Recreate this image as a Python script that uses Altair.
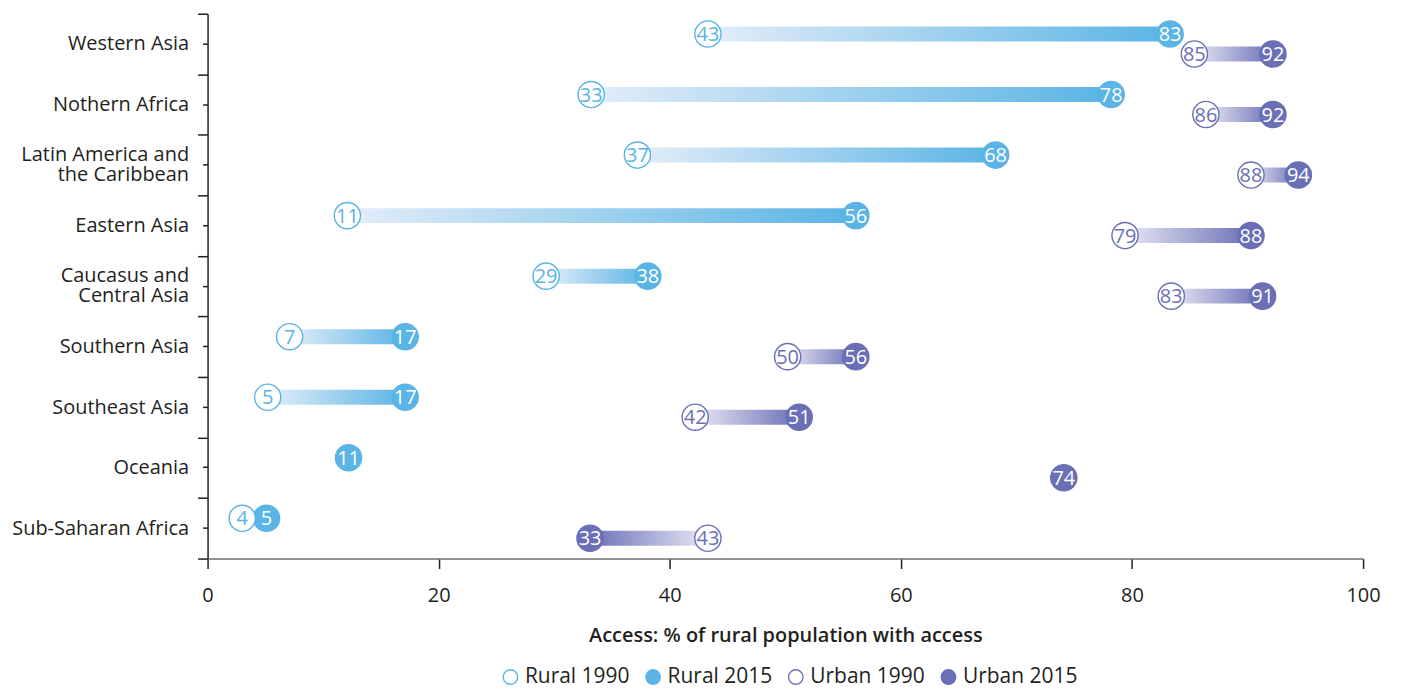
import altair as alt
import pandas as pd

# ---------------- data ----------------
regions = [
    "Western Asia",
    "Nothern Africa",
    "Latin America and|the Caribbean",
    "Eastern Asia",
    "Caucasus and|Central Asia",
    "Southern Asia",
    "Southeast Asia",
    "Oceania",
    "Sub-Saharan Africa",
]
# plotted positions
rural_1990 = [43.3, 33.2, 37.2, 12.1, 29.3, 7.1, 5.2, None, 3.0]
rural_2015 = [83.3, 78.2, 68.2, 56.1, 38.1, 17.1, 17.1, 12.2, 5.1]
urban_1990 = [85.4, 86.4, 90.3, 79.4, 83.4, 50.2, 42.2, None, 43.3]
urban_2015 = [92.2, 92.2, 94.4, 90.3, 91.3, 56.1, 51.2, 74.1, 33.1]
# printed labels
rural_1990_lab = ["43", "33", "37", "11", "29", "7", "5", "", "4"]
rural_2015_lab = ["83", "78", "68", "56", "38", "17", "17", "11", "5"]
urban_1990_lab = ["85", "86", "88", "79", "83", "50", "42", "", "43"]
urban_2015_lab = ["92", "92", "94", "88", "91", "56", "51", "74", "33"]

x_ticks = [0, 20, 40, 60, 80, 100]
series_order = ["Rural 1990", "Rural 2015", "Urban 1990", "Urban 2015"]

BLUE = "#5ab4e5"
PURPLE = "#6a6fb6"
INK = "#231f20"
FONT = "Open Sans"

# ---------------- tables ----------------
seg_rows = []
pt_rows = []
vals = {
    ("Rural", "1990"): (rural_1990, rural_1990_lab),
    ("Rural", "2015"): (rural_2015, rural_2015_lab),
    ("Urban", "1990"): (urban_1990, urban_1990_lab),
    ("Urban", "2015"): (urban_2015, urban_2015_lab),
}
for i, r in enumerate(regions):
    for typ in ["Rural", "Urban"]:
        a = vals[(typ, "1990")][0][i]
        b = vals[(typ, "2015")][0][i]
        if a is not None and b is not None:
            seg_rows.append(dict(region=r, type=typ, start=a, end=b, up=bool(b >= a)))
# draw 2015 circles first, 1990 on top
for yr in ["2015", "1990"]:
    for typ in ["Rural", "Urban"]:
        v, lab = vals[(typ, yr)]
        for i, r in enumerate(regions):
            if v[i] is None:
                continue
            filled = yr == "2015"
            col = BLUE if typ == "Rural" else PURPLE
            pt_rows.append(dict(region=r, type=typ, series=f"{typ} {yr}", value=v[i],
                                label=lab[i], tcolor="white" if filled else col))
seg = pd.DataFrame(seg_rows)
pts = pd.DataFrame(pt_rows)

# ---------------- encodings ----------------
Y_SCALE = alt.Scale(domain=regions, paddingInner=0, paddingOuter=0)
YOFF = alt.YOffset("type:N", scale=alt.Scale(domain=["Rural", "Urban"], paddingInner=0, paddingOuter=0.515))
X_SCALE = alt.Scale(domain=[0, 100], nice=False)
X_AXIS = alt.Axis(
    title="Access: % of rural population with access", values=x_ticks, grid=False,
    domainColor="#6d6e71", domainWidth=1.5, tickColor=INK, tickWidth=1.5, tickSize=10,
    labelFontSize=20, labelColor=INK, labelFont=FONT, labelPadding=17, labelFlush=False,
    titleFontSize=20, titleFont=FONT, titleFontWeight=600, titleColor=INK, titlePadding=20,
)

def y_enc(axis):
    return alt.Y("region:N", sort=regions, scale=Y_SCALE, axis=axis, title=None)

def x_enc(field):
    return alt.X(f"{field}:Q", scale=X_SCALE, axis=X_AXIS)

# long ticks at band edges + single-line labels
MAIN_Y_AXIS = alt.Axis(
    title=None, tickBand="extent", tickSize=10, tickWidth=1.5, tickColor=INK,
    domainColor=INK, domainWidth=1.5, labelFontSize=20, labelFont=FONT, labelColor=INK,
    labelPadding=9, grid=False,
    labelExpr="indexof(datum.label, '|') >= 0 ? '' : datum.label",
)
# short ticks at band centres + two-line labels
SHORT_Y_AXIS = alt.Axis(
    title=None, tickBand="center", tickSize=5, tickWidth=1.5, tickColor=INK,
    domain=False, grid=False, orient="left",
    labelFontSize=20, labelFont=FONT, labelColor=INK, labelPadding=14,
    labelLineHeight=20, labelOffset=-10,
    labelExpr="indexof(datum.label, '|') >= 0 ? split(datum.label, '|') : ''",
)

def bar_layer(typ, up, light, dark):
    stops = [alt.GradientStop(color=light, offset=0), alt.GradientStop(color=dark, offset=1)]
    if not up:
        stops = [alt.GradientStop(color=dark, offset=0), alt.GradientStop(color=light, offset=1)]
    grad = alt.LinearGradient(gradient="linear", stops=stops, x1=0, x2=1, y1=0, y2=0)
    return (
        alt.Chart(seg)
        .transform_filter(f"datum.type == '{typ}' && datum.up == {'true' if up else 'false'}")
        .mark_bar(height=15, color=grad, opacity=1)
        .encode(x=x_enc("start"), x2="end:Q", y=y_enc(None), yOffset=YOFF)
    )

bars = [
    bar_layer("Rural", True, "#e3edf8", BLUE),
    bar_layer("Rural", False, "#e3edf8", BLUE),
    bar_layer("Urban", True, "#e8e8f4", PURPLE),
    bar_layer("Urban", False, "#e8e8f4", PURPLE),
]

LEGEND = alt.Legend(
    title=None, orient="none", direction="horizontal", legendX=293, legendY=654,
    symbolType="circle", symbolSize=210, symbolStrokeWidth=1.4, labelFontSize=21,
    labelFont=FONT, labelColor=INK, columnPadding=13, labelOffset=4,
)

circles = (
    alt.Chart(pts)
    .mark_circle(size=690, opacity=1, strokeWidth=1.4)
    .encode(
        x=x_enc("value"),
        y=y_enc(MAIN_Y_AXIS),
        yOffset=YOFF,
        fill=alt.Fill("series:N", scale=alt.Scale(domain=series_order, range=["white", BLUE, "white", PURPLE]),
                      legend=LEGEND, sort=series_order),
        stroke=alt.Stroke("series:N", scale=alt.Scale(domain=series_order, range=[BLUE, BLUE, PURPLE, PURPLE]),
                          legend=LEGEND, sort=series_order),
        order=alt.Order("idx:Q"),
    )
    .transform_window(idx="row_number()")
)

texts = (
    alt.Chart(pts)
    .mark_text(fontSize=20, font=FONT, align="center", baseline="middle", dy=1)
    .encode(
        x=x_enc("value"),
        y=y_enc(SHORT_Y_AXIS),
        yOffset=YOFF,
        text="label:N",
        color=alt.Color("tcolor:N", scale=None),
    )
)

chart = (
    alt.layer(*bars, circles, texts)
    .resolve_axis(y="independent")
    .properties(
        width=1158, height=546,
        autosize=alt.AutoSizeParams(type="none"),
        padding={"left": 200, "top": 5, "right": 30, "bottom": 136},
        view=alt.ViewBackground(strokeOpacity=0, strokeWidth=0),
    )
    .configure_view(strokeOpacity=0, strokeWidth=0)
    .configure(font=FONT)
)

chart.save("out.html", embed_options={"renderer": "svg", "actions": False})
